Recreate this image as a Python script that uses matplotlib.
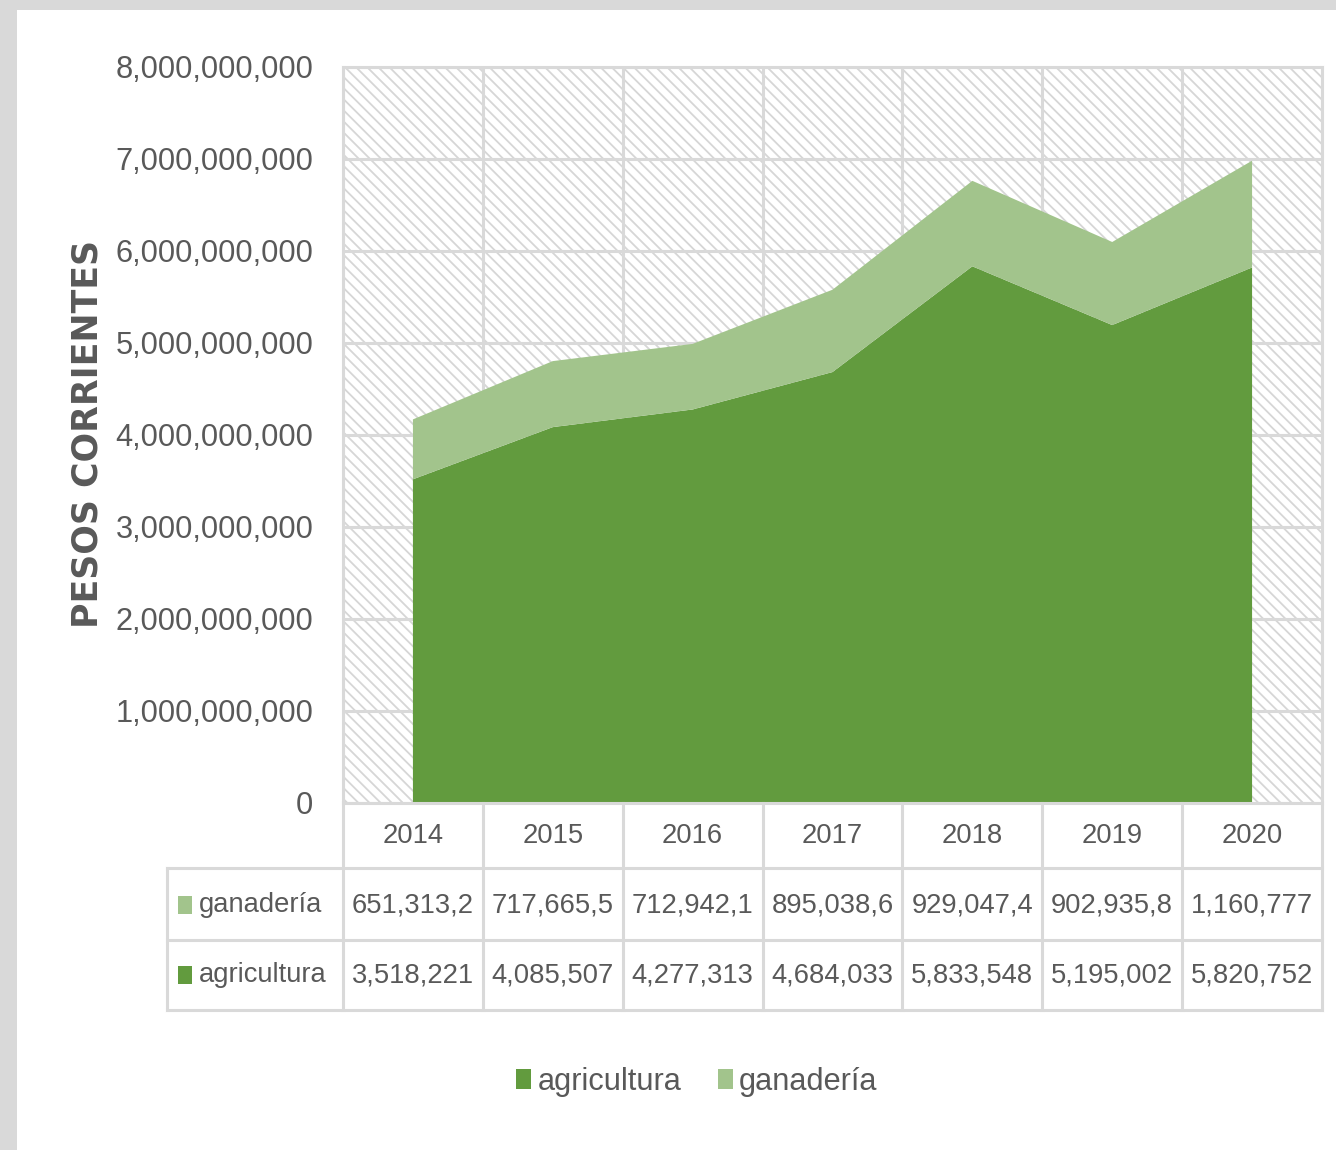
import matplotlib
matplotlib.use('Agg')
import matplotlib.pyplot as plt
from matplotlib import font_manager
from matplotlib.patches import Rectangle, Patch
from matplotlib.lines import Line2D
from matplotlib.transforms import blended_transform_factory
from matplotlib.ticker import FuncFormatter

# ---------------- data ----------------
years = ['2014', '2015', '2016', '2017', '2018', '2019', '2020']
agricultura = [3518221e3, 4085507e3, 4277313e3, 4684033e3, 5833548e3, 5195002e3, 5820752e3]
ganaderia = [651313.2e3, 717665.5e3, 712942.1e3, 895038.6e3, 929047.4e3, 902935.8e3, 1160777e3]
agricultura_labels = ['3,518,221', '4,085,507', '4,277,313', '4,684,033', '5,833,548', '5,195,002', '5,820,752']
ganaderia_labels = ['651,313,2', '717,665,5', '712,942,1', '895,038,6', '929,047,4', '902,935,8', '1,160,777']
yticks = [0, 1e9, 2e9, 3e9, 4e9, 5e9, 6e9, 7e9, 8e9]

# ---------------- style ----------------
names = {f.name for f in font_manager.fontManager.ttflist}
if 'Liberation Sans Narrow' in names:
    NARROW, S = 'Liberation Sans Narrow', 1.0
else:
    NARROW, S = 'Liberation Sans', 0.82

C_AGRI = '#629b3e'
C_GAN = '#a2c48c'
C_GRID = '#d9d9d9'
C_TXT = '#595959'
plt.rcParams['hatch.linewidth'] = 1.3

W, H = 1336, 1150
fig = plt.figure(figsize=(W / 100, H / 100), dpi=100)
fig.patch.set_facecolor('white')


def fx(x):
    return x / W


def fy(y):
    return 1 - y / H


# gray frame (top and left)
fig.patches.append(Rectangle((0, fy(10)), 1, 10 / H, transform=fig.transFigure,
                             facecolor=C_GRID, edgecolor='none', zorder=0))
fig.patches.append(Rectangle((0, 0), 17 / W, 1, transform=fig.transFigure,
                             facecolor=C_GRID, edgecolor='none', zorder=0))

L, R, T, B = 343, 1322, 67, 803
ax = fig.add_axes([fx(L), fy(B), (R - L) / W, (B - T) / H])
ax.set_facecolor('white')
ax.add_patch(Rectangle((0, 0), 1, 1, transform=ax.transAxes, facecolor='white',
                       edgecolor='#d6d6d6', hatch='\\\\\\', linewidth=0, zorder=0))

x = list(range(len(years)))
ax.stackplot(x, agricultura, ganaderia, colors=[C_AGRI, C_GAN], linewidth=0, zorder=2)

ax.set_xlim(-0.5, len(years) - 0.5)
ax.set_ylim(0, 8e9)
ax.set_yticks(yticks)
ax.yaxis.set_major_formatter(FuncFormatter(lambda v, p: f'{int(v):,}'))
ax.set_xticks([i - 0.5 for i in range(len(years) + 1)])
ax.set_xticklabels([])
ax.tick_params(axis='both', length=0)
ax.tick_params(axis='y', pad=26 * S, labelsize=27 * S, labelcolor=C_TXT)
for lab in ax.get_yticklabels():
    lab.set_fontfamily(NARROW)
ax.set_axisbelow(True)
ax.grid(True, color=C_GRID, linewidth=2.2)
for sp in ax.spines.values():
    sp.set_color(C_GRID)
    sp.set_linewidth(2.2)

fig.text(fx(88), fy(434), 'PESOS CORRIENTES', rotation=90, ha='center', va='center',
         fontsize=25, fontweight='bold', color=C_TXT, family='DejaVu Sans')

# ---------------- data table ----------------
tx = blended_transform_factory(ax.transData, fig.transFigure)
y_head, y_r1, y_r2, y_end = 803, 868, 940, 1010
lw = 2.2
# horizontal lines
for yy in (y_r1, y_r2, y_end):
    fig.lines.append(Line2D([fx(167), fx(R)], [fy(yy), fy(yy)], transform=fig.transFigure,
                            color=C_GRID, linewidth=lw))
# left border of label column
fig.lines.append(Line2D([fx(167), fx(167)], [fy(y_r1), fy(y_end)], transform=fig.transFigure,
                        color=C_GRID, linewidth=lw))
# column borders
for i in range(len(years) + 1):
    fig.lines.append(Line2D([i - 0.5, i - 0.5], [fy(y_head), fy(y_end)], transform=tx,
                            color=C_GRID, linewidth=lw))

tsize = 24 * S
for i, yr in enumerate(years):
    fig.text(i, fy(836), yr, transform=tx, ha='center', va='center', fontsize=tsize,
             color=C_TXT, family=NARROW)
    fig.text(i, fy(905), ganaderia_labels[i], transform=tx, ha='center', va='center',
             fontsize=tsize, color=C_TXT, family=NARROW)
    fig.text(i, fy(975), agricultura_labels[i], transform=tx, ha='center', va='center',
             fontsize=tsize, color=C_TXT, family=NARROW)

for yc, name, col in ((905, 'ganadería', C_GAN), (975, 'agricultura', C_AGRI)):
    fig.patches.append(Rectangle((fx(178), fy(yc + 9)), 14 / W, 18 / H, transform=fig.transFigure,
                                 facecolor=col, edgecolor='none'))
    fig.text(fx(199), fy(yc), name, ha='left', va='center', fontsize=tsize, color=C_TXT,
             family=NARROW)

# ---------------- legend ----------------
handles = [Patch(facecolor=C_AGRI, edgecolor='none'), Patch(facecolor=C_GAN, edgecolor='none')]
fig.legend(handles, ['agricultura', 'ganadería'], loc='center', bbox_to_anchor=(fx(697), fy(1082)),
           ncol=2, frameon=False, prop={'family': NARROW, 'size': 27 * S},
           labelcolor=C_TXT, handlelength=0.48, handleheight=0.62, handletextpad=0.2,
           columnspacing=1.2)

fig.savefig('out.png', dpi=100, facecolor='white')
